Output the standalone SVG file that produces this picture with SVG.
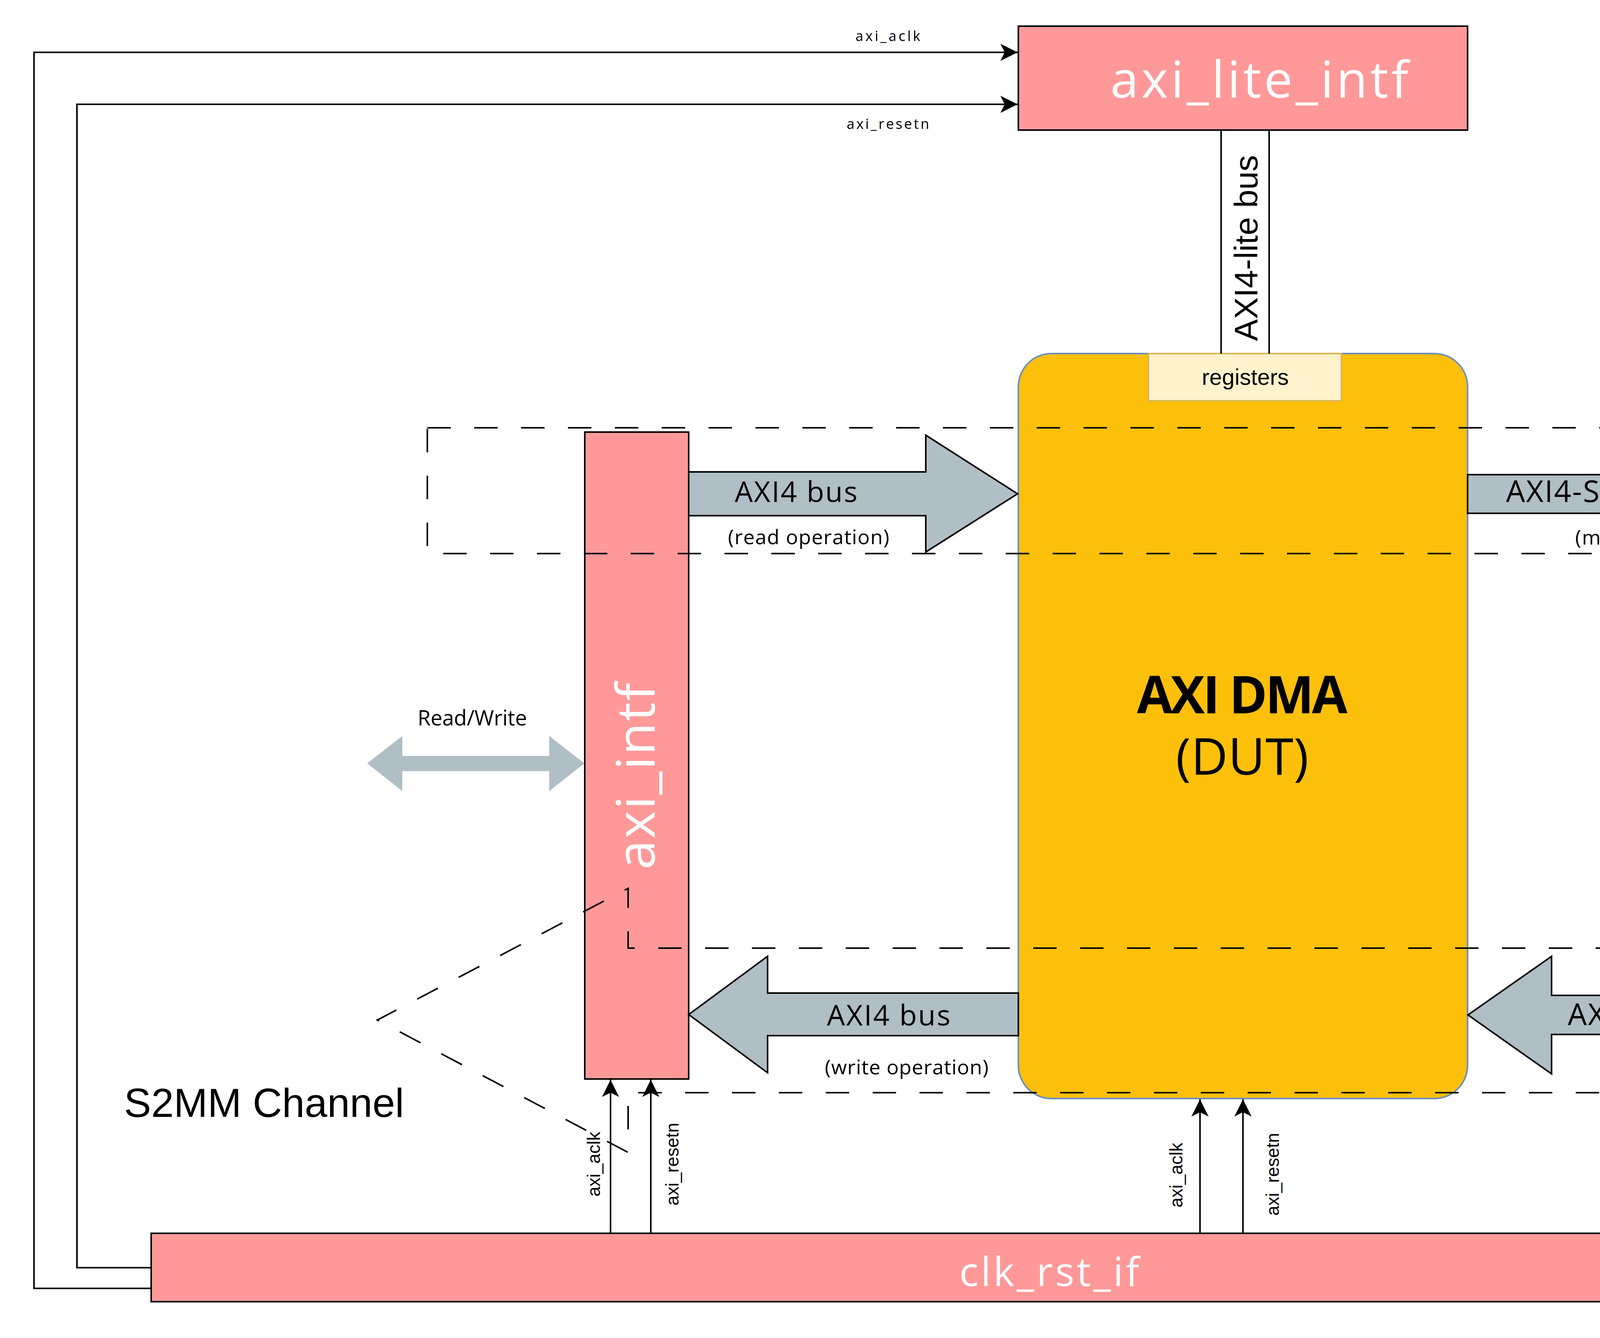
<svg xmlns="http://www.w3.org/2000/svg" width="5525" height="3425" viewBox="0 0 5525 3425">
<defs>
<style>
.box{fill:#FF9999;stroke:#000;stroke-width:4}
.blk{fill:#B0BEC5;stroke:#000;stroke-width:4;stroke-linejoin:miter}
.wire{fill:none;stroke:#000;stroke-width:4}
.dash{fill:none;stroke:#000;stroke-width:4;stroke-dasharray:60 60}
.wt{fill:#FFFFFF;font-family:'Open Sans','Noto Sans',sans-serif}
.pt{fill:#000000;font-family:'Open Sans','Noto Sans',sans-serif}
.at{fill:#000000;font-family:'Liberation Sans',Arial,sans-serif}
</style>
<marker id="arr" markerUnits="userSpaceOnUse" viewBox="-46 -24 48 48" refX="0" refY="0" markerWidth="48" markerHeight="48" orient="auto">
<path d="M0,0 L-44,-22 L-33,0 L-44,22 Z" fill="#000"/>
</marker>
</defs>
<rect width="5525" height="3425" fill="#FFFFFF"/>

<g id="axi_lite_intf">
<rect class="box" x="2607" y="67" width="1150" height="266"/>
<text class="wt" x="3224" y="250" font-size="130" text-anchor="middle" textLength="763">axi_lite_intf</text>
</g>

<g id="axi_dma">
<rect x="2607" y="905" width="1150" height="1907" rx="85" ry="85" fill="#FDC00A" stroke="#6C8EBF" stroke-width="4"/>
<text class="pt" x="3180" y="1826" font-size="132" font-weight="700" text-anchor="middle" textLength="539">AXI DMA</text>
<text class="pt" x="3180" y="1983" font-size="130" text-anchor="middle" textLength="340">(DUT)</text>
</g>

<g id="registers">
<rect x="2940" y="905" width="494" height="121" fill="#FFF2CC" stroke="#D6B656" stroke-width="4"/>
<text class="at" x="3188" y="985" font-size="58" text-anchor="middle">registers</text>
</g>

<g id="axi_intf">
<rect class="box" x="1497" y="1106" width="266" height="1656"/>
<text class="wt" transform="translate(1676,1987) rotate(-90)" x="0" y="0" font-size="136" text-anchor="middle" textLength="478">axi_intf</text>
</g>

<g id="axis_intf">
<rect class="box" x="4727" y="957" width="340" height="1987"/>
<text class="wt" transform="translate(4948,1948) rotate(-90)" x="0" y="0" font-size="140" text-anchor="middle" textLength="551">axis_intf</text>
</g>

<g id="clk_rst_if">
<rect class="box" x="387" y="3157" width="4700" height="175"/>
<text class="wt" x="2686" y="3292" font-size="102" text-anchor="middle" textLength="460">clk_rst_if</text>
</g>

<g id="buses">
<g id="axi4_read">
<polygon class="blk" points="1763,1208 2370,1208 2370,1114 2605,1264 2370,1413 2370,1320 1763,1320"/>
<text class="pt" x="2038" y="1285" font-size="73" text-anchor="middle" textLength="314">AXI4 bus</text>
<text class="pt" x="2070" y="1393" font-size="52" text-anchor="middle" textLength="413">(read operation)</text>
</g>
<g id="axis_master">
<polygon class="blk" points="3757,1215 4508,1215 4508,1115 4722,1263 4508,1412 4508,1314 3757,1314"/>
<text class="pt" x="4171" y="1285" font-size="77" text-anchor="middle" textLength="631">AXI4-Stream bus</text>
<text class="pt" x="4140" y="1394" font-size="52" text-anchor="middle" textLength="215">(master)</text>
</g>
<g id="axi4_write">
<polygon class="blk" points="2607,2542 1965,2542 1965,2448 1763,2597 1965,2746 1965,2651 2607,2651"/>
<text class="pt" x="2275" y="2625" font-size="73" text-anchor="middle" textLength="316">AXI4 bus</text>
<text class="pt" x="2321" y="2750" font-size="52" text-anchor="middle" textLength="419">(write operation)</text>
</g>
<g id="axis_slave">
<polygon class="blk" points="4728,2548 3972,2548 3972,2448 3758,2598 3972,2749 3972,2648 4728,2648"/>
<text class="pt" x="4329" y="2624" font-size="77" text-anchor="middle" textLength="631">AXI4-Stream bus</text>
<text class="pt" x="4329" y="2736" font-size="52" text-anchor="middle" textLength="168">(slave)</text>
</g>
<g id="read_write">
<polygon fill="#B0BEC5" points="940,1954 1030,1884 1030,1935 1406,1935 1406,1884 1496,1954 1406,2025 1406,1974 1030,1974 1030,2025"/>
<text class="pt" x="1209" y="1857" font-size="54" text-anchor="middle" textLength="280">Read/Write</text>
</g>
</g>

<g id="connectors">
<polyline class="wire" points="387,3298 87,3298 87,134 2605,134" marker-end="url(#arr)"/>
<polyline class="wire" points="387,3245 197,3245 197,267 2605,267" marker-end="url(#arr)"/>
<text class="pt" x="2273" y="105" font-size="36" text-anchor="middle" textLength="166">axi_aclk</text>
<text class="pt" x="2273" y="330" font-size="36" text-anchor="middle" textLength="211">axi_resetn</text>

<line class="wire" x1="3126" y1="333" x2="3126" y2="905"/>
<line class="wire" x1="3249" y1="333" x2="3249" y2="905"/>
<text class="at" transform="translate(3219,635) rotate(-90)" x="0" y="0" font-size="84" text-anchor="middle">AXI4-lite bus</text>

<line class="wire" x1="1563" y1="3157" x2="1563" y2="2764" marker-end="url(#arr)"/>
<line class="wire" x1="1666" y1="3157" x2="1666" y2="2764" marker-end="url(#arr)"/>
<text class="at" transform="translate(1536,2980) rotate(-90)" x="0" y="0" font-size="46" text-anchor="middle">axi_aclk</text>
<text class="at" transform="translate(1737,2980) rotate(-90)" x="0" y="0" font-size="46" text-anchor="middle">axi_resetn</text>

<line class="wire" x1="3072" y1="3157" x2="3072" y2="2814" marker-end="url(#arr)"/>
<line class="wire" x1="3182" y1="3157" x2="3182" y2="2814" marker-end="url(#arr)"/>
<text class="at" transform="translate(3027,3008) rotate(-90)" x="0" y="0" font-size="46" text-anchor="middle">axi_aclk</text>
<text class="at" transform="translate(3274,3006) rotate(-90)" x="0" y="0" font-size="46" text-anchor="middle">axi_resetn</text>

<line class="wire" x1="4842" y1="3157" x2="4842" y2="2946" marker-end="url(#arr)"/>
<line class="wire" x1="4991" y1="3157" x2="4991" y2="2946" marker-end="url(#arr)"/>
<text class="at" transform="translate(4821,3070) rotate(-90)" x="0" y="0" font-size="23" text-anchor="middle">axi_aclk</text>
<text class="at" transform="translate(5016,3070) rotate(-90)" x="0" y="0" font-size="23" text-anchor="middle">axi_resetn</text>
</g>

<g id="mm2s_channel">
<polygon class="dash" points="1094,1095 4886,1095 4886,863 5472,1256 4886,1650 4886,1417 1094,1417"/>
<text class="at" x="4750" y="744" font-size="104" text-anchor="middle">MM2S Channel</text>
</g>

<g id="s2mm_channel">
<polygon class="dash" points="5345,2427 1608,2427 1608,2274 966,2611 1608,2950 1608,2797 5345,2797"/>
<text class="at" x="676" y="2859" font-size="104" text-anchor="middle">S2MM Channel</text>
</g>
</svg>
